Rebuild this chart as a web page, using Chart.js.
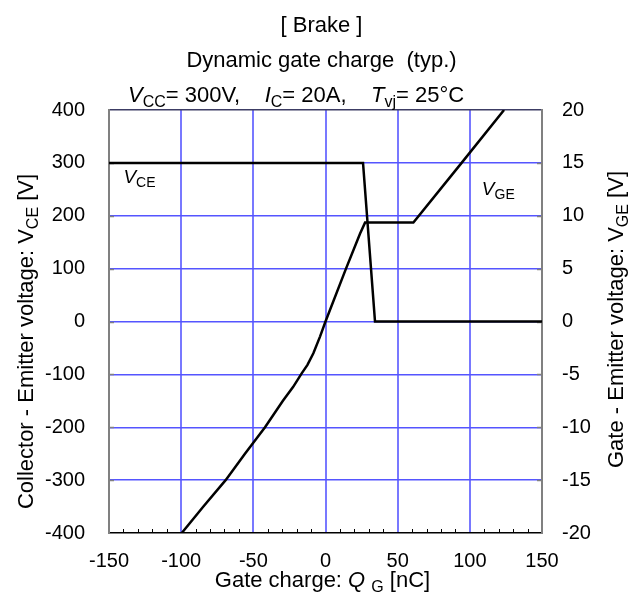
<!DOCTYPE html>
<html>
<head>
<meta charset="utf-8">
<title>Dynamic gate charge</title>
<script src="https://cdn.jsdelivr.net/npm/chart.js@4.4.1/dist/chart.umd.min.js"></script>
<style>
  html, body { margin: 0; padding: 0; background: #fff; }
  #wrap { width: 644px; height: 599px; }
</style>
</head>
<body>
<div id="wrap"><canvas id="gateChart" width="644" height="599"></canvas></div>
<script>
// --- data ---
const vceCharge = [-150, 26, 34.3, 150];          // Q_G [nC]
const vceVolts  = [300, 300, 0, 0];               // V_CE [V]

const vgeCharge = [-99.6, -84.6, -69.2, -55.8, -41.9, -29.5, -22.5, -16.5, -12.5, -8.4, -3.8, 0, 14, 23.9, 27.4, 60.9, 94.3, 123.7];
const vgeVolts  = [-20, -17.5, -15, -12.5, -10, -7.5, -6.2, -4.9, -4.1, -3.0, -1.43, 0, 4.93, 8.3, 9.35, 9.35, 15, 20];

const xMin = -150, xMax = 150, xMinorStep = 10, xMajorStep = 50;
const vceMin = -400, vceMax = 400, vceStep = 100;
const vgeMin = -20, vgeMax = 20, vgeStep = 5;

const FONT = '"Liberation Sans", Arial, sans-serif';
const GRID_V = 'rgb(120, 120, 255)';
const GRID_H = 'rgb(85, 85, 255)';

function toPoints(xs, ys) {
  return xs.map((x, i) => ({ x: x, y: ys[i] }));
}

// text pieces: { t, i (italic), sub (subscript) }
function fontFor(p, size) {
  const s = p.sub ? Math.round(size * 0.72) : size;
  return (p.i ? 'italic ' : '') + s + 'px ' + FONT;
}
function richWidth(ctx, parts, size) {
  let w = 0;
  parts.forEach(p => {
    ctx.font = fontFor(p, size);
    w += ctx.measureText(p.t).width;
  });
  return w;
}
function drawRich(ctx, parts, x, y, size, align) {
  let cx = x;
  if (align === 'center') cx = x - richWidth(ctx, parts, size) / 2;
  ctx.textAlign = 'left';
  ctx.textBaseline = 'alphabetic';
  parts.forEach(p => {
    ctx.font = fontFor(p, size);
    ctx.fillText(p.t, cx, y + (p.sub ? size * 0.22 : 0));
    cx += ctx.measureText(p.t).width;
  });
}

const titleParts = [{ t: '[ Brake ]' }];
const title2Parts = [{ t: 'Dynamic gate charge  (typ.)' }];
const condParts = [
  { t: 'V', i: true }, { t: 'CC', sub: true }, { t: '= 300V,    ' },
  { t: 'I', i: true }, { t: 'C', sub: true }, { t: '= 20A,    ' },
  { t: 'T', i: true }, { t: 'vj', sub: true }, { t: '= 25°C' }
];
const xTitleParts = [{ t: 'Gate charge: ' }, { t: 'Q', i: true }, { t: ' ' }, { t: 'G', sub: true }, { t: ' [nC]' }];
const yTitleParts = [{ t: 'Collector - Emitter voltage: V' }, { t: 'CE', sub: true }, { t: ' [V]' }];
const y2TitleParts = [{ t: 'Gate - Emitter voltage: V' }, { t: 'GE', sub: true }, { t: ' [V]' }];
const vceLabel = [{ t: 'V', i: true }, { t: 'CE', sub: true }];
const vgeLabel = [{ t: 'V', i: true }, { t: 'GE', sub: true }];

const annotations = {
  id: 'annotations',
  beforeDatasetsDraw(chart) {
    const ctx = chart.ctx;
    const a = chart.chartArea;
    const xs = chart.scales.x, ys = chart.scales.y, y2 = chart.scales.y2;
    ctx.save();
    // minor ticks on the bottom axis, pointing inward
    ctx.strokeStyle = '#000';
    ctx.lineWidth = 1;
    for (let v = xMin + xMinorStep; v < xMax; v += xMinorStep) {
      if (v % xMajorStep === 0) continue;
      const px = Math.round(xs.getPixelForValue(v)) + 0.5;
      ctx.beginPath();
      ctx.moveTo(px, a.bottom);
      ctx.lineTo(px, a.bottom - 4);
      ctx.stroke();
    }
    // small gray ticks on both side axes
    ctx.strokeStyle = '#808080';
    ctx.lineWidth = 1.5;
    for (let v = vceMin + vceStep; v < vceMax; v += vceStep) {
      const py = Math.round(ys.getPixelForValue(v)) + 0.5;
      ctx.beginPath();
      ctx.moveTo(a.left, py);
      ctx.lineTo(a.left + 5, py);
      ctx.stroke();
    }
    for (let v = vgeMin + vgeStep; v < vgeMax; v += vgeStep) {
      const py = Math.round(y2.getPixelForValue(v)) + 0.5;
      ctx.beginPath();
      ctx.moveTo(a.right - 5, py);
      ctx.lineTo(a.right, py);
      ctx.stroke();
    }
    ctx.restore();
  },
  afterDraw(chart) {
    const ctx = chart.ctx;
    const a = chart.chartArea;
    const xs = chart.scales.x, ys = chart.scales.y, y2 = chart.scales.y2;
    ctx.save();
    ctx.fillStyle = '#000';
    const midX = (a.left + a.right) / 2;
    drawRich(ctx, titleParts, midX - 4, 32, 22, 'center');
    drawRich(ctx, title2Parts, midX - 4, 67, 22, 'center');
    drawRich(ctx, condParts, 128, 102, 22, 'left');
    drawRich(ctx, xTitleParts, midX - 3, 587, 22, 'center');

    ctx.save();
    ctx.translate(33, (a.top + a.bottom) / 2 + 20);
    ctx.rotate(-Math.PI / 2);
    drawRich(ctx, yTitleParts, 0, 0, 22, 'center');
    ctx.restore();

    ctx.save();
    ctx.translate(623, (a.top + a.bottom) / 2 - 2);
    ctx.rotate(-Math.PI / 2);
    drawRich(ctx, y2TitleParts, 0, 0, 22, 'center');
    ctx.restore();

    // curve labels, anchored to data coordinates
    drawRich(ctx, vceLabel, xs.getPixelForValue(-140), ys.getPixelForValue(262), 19, 'left');
    drawRich(ctx, vgeLabel, xs.getPixelForValue(108.3), y2.getPixelForValue(12), 19, 'left');
    ctx.restore();
  }
};

Chart.defaults.font.family = FONT;
Chart.defaults.color = '#000';

new Chart(document.getElementById('gateChart'), {
  type: 'scatter',
  data: {
    datasets: [
      {
        label: 'VCE',
        data: toPoints(vceCharge, vceVolts),
        yAxisID: 'y',
        showLine: true,
        borderColor: '#000',
        borderWidth: 2.5,
        pointRadius: 0,
        tension: 0
      },
      {
        label: 'VGE',
        data: toPoints(vgeCharge, vgeVolts),
        yAxisID: 'y2',
        showLine: true,
        borderColor: '#000',
        borderWidth: 2.5,
        pointRadius: 0,
        tension: 0
      }
    ]
  },
  options: {
    responsive: false,
    animation: false,
    devicePixelRatio: 1,
    layout: { padding: { top: 110, left: 0, right: 0, bottom: 0 } },
    plugins: {
      legend: { display: false },
      tooltip: { enabled: false }
    },
    scales: {
      x: {
        type: 'linear',
        min: xMin,
        max: xMax,
        afterFit: (s) => { s.height = 66; },
        ticks: {
          stepSize: xMinorStep,
          autoSkip: false,
          maxRotation: 0,
          padding: 16,
          font: { size: 20 },
          callback: (v) => (v % xMajorStep === 0 ? String(v) : '')
        },
        grid: {
          drawTicks: false,
          lineWidth: 2,
          color: (c) => {
            const v = c.tick ? c.tick.value : null;
            return v !== null && v % xMajorStep === 0 && v > xMin && v < xMax ? GRID_V : 'rgba(0,0,0,0)';
          }
        },
        border: { color: '#000', width: 1.5 }
      },
      y: {
        position: 'left',
        min: vceMin,
        max: vceMax,
        afterFit: (s) => { s.width = 109; },
        ticks: { stepSize: vceStep, padding: 24, font: { size: 20 } },
        grid: {
          drawTicks: false,
          lineWidth: 1.5,
          color: (c) => {
            const v = c.tick ? c.tick.value : null;
            if (v === vceMax) return '#3c3c64';
            if (v === vceMin) return 'rgba(0,0,0,0)';
            return GRID_H;
          }
        },
        border: { color: '#808080', width: 2 }
      },
      y2: {
        position: 'right',
        min: vgeMin,
        max: vgeMax,
        afterFit: (s) => { s.width = 102; },
        ticks: { stepSize: vgeStep, padding: 20, font: { size: 20 } },
        grid: { display: false, drawTicks: false },
        border: { color: '#808080', width: 2 }
      }
    }
  },
  plugins: [annotations]
});
</script>
</body>
</html>
